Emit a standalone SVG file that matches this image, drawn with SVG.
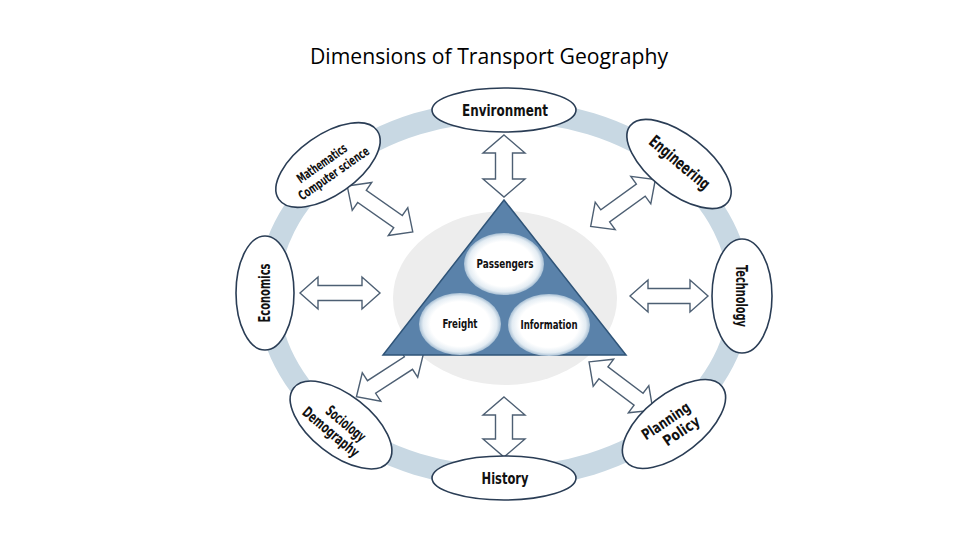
<svg xmlns="http://www.w3.org/2000/svg" width="960" height="540" viewBox="0 0 960 540">
<style>
.title{font-family:"Open Sans","Liberation Sans",sans-serif;font-size:21px;fill:#000}
.lbl{font-family:"DejaVu Sans Condensed","DejaVu Sans",sans-serif;font-stretch:condensed;font-weight:bold;fill:#111;text-anchor:middle}
.node{fill:#fff;stroke:#2a3d55;stroke-width:1.6}
.arr{fill:#fff;stroke:#4d5f73;stroke-width:1.4;stroke-linejoin:miter}
</style>
<defs>
<radialGradient id="glow" cx="0.5" cy="0.5" r="0.5">
<stop offset="0" stop-color="#ffffff"/>
<stop offset="0.72" stop-color="#ffffff"/>
<stop offset="0.9" stop-color="#e3ecf3"/>
<stop offset="1" stop-color="#a7bfd4"/>
</radialGradient>
</defs>
<rect width="960" height="540" fill="#fff"/>
<text class="title" x="489" y="64" text-anchor="middle" textLength="358" lengthAdjust="spacingAndGlyphs">Dimensions of Transport Geography</text>
<g id="ring">
<ellipse cx="504" cy="294" rx="236" ry="183" fill="none" stroke="#c8d8e3" stroke-width="22"/>
<ellipse cx="505" cy="298" rx="112" ry="87" fill="#ededed"/>
</g>
<g id="connectors">
<path class="arr" transform="translate(504,166) rotate(90)" d="M-31,0 L-13,-21 L-13,-8.5 L13,-8.5 L13,-21 L31,0 L13,21 L13,8.5 L-13,8.5 L-13,21 Z"/>
<path class="arr" transform="translate(504,427) rotate(90)" d="M-30,0 L-12,-21 L-12,-8.5 L12,-8.5 L12,-21 L30,0 L12,21 L12,8.5 L-12,8.5 L-12,21 Z"/>
<path class="arr" transform="translate(340,293)" d="M-40,0 L-22,-16 L-22,-7.5 L22,-7.5 L22,-16 L40,0 L22,16 L22,7.5 L-22,7.5 L-22,16 Z"/>
<path class="arr" transform="translate(669,296)" d="M-39,0 L-21,-16 L-21,-7.5 L21,-7.5 L21,-16 L39,0 L21,16 L21,7.5 L-21,7.5 L-21,16 Z"/>
<path class="arr" transform="translate(380,209) rotate(35)" d="M-40,0 L-22,-17 L-22,-7.5 L22,-7.5 L22,-17 L40,0 L22,17 L22,7.5 L-22,7.5 L-22,17 Z"/>
<path class="arr" transform="translate(623,203) rotate(-36)" d="M-40,0 L-22,-17 L-22,-7.5 L22,-7.5 L22,-17 L40,0 L22,17 L22,7.5 L-22,7.5 L-22,17 Z"/>
<path class="arr" transform="translate(390,375) rotate(-33)" d="M-40,0 L-22,-17 L-22,-7.5 L22,-7.5 L22,-17 L40,0 L22,17 L22,7.5 L-22,7.5 L-22,17 Z"/>
<path class="arr" transform="translate(621,386) rotate(37)" d="M-40,0 L-22,-17 L-22,-7.5 L22,-7.5 L22,-17 L40,0 L22,17 L22,7.5 L-22,7.5 L-22,17 Z"/>
</g>
<g id="transport">
<polygon points="504,200 383,355 626,355" fill="#5a82aa" stroke="#2f5478" stroke-width="1.5"/>
</g>
<g id="passengers">
<ellipse cx="504" cy="264" rx="40" ry="31" fill="url(#glow)"/>
<text class="lbl" x="505" y="268" font-size="12" textLength="57" lengthAdjust="spacingAndGlyphs">Passengers</text>
</g>
<g id="freight">
<ellipse cx="460" cy="324" rx="41" ry="31" fill="url(#glow)"/>
<text class="lbl" x="460" y="328" font-size="12" textLength="35" lengthAdjust="spacingAndGlyphs">Freight</text>
</g>
<g id="information">
<ellipse cx="549" cy="325" rx="41" ry="31" fill="url(#glow)"/>
<text class="lbl" x="549" y="329" font-size="12" textLength="57" lengthAdjust="spacingAndGlyphs">Information</text>
</g>
<g id="environment">
<ellipse class="node" cx="504" cy="110" rx="72" ry="22"/>
<text class="lbl" x="505" y="116" font-size="16" textLength="86" lengthAdjust="spacingAndGlyphs">Environment</text>
</g>
<g id="history">
<ellipse class="node" cx="504" cy="478" rx="72" ry="22"/>
<text class="lbl" x="505" y="484" font-size="16" textLength="47" lengthAdjust="spacingAndGlyphs">History</text>
</g>
<g id="economics">
<ellipse class="node" cx="265" cy="293" rx="29" ry="57"/>
<text class="lbl" transform="translate(270,293) rotate(-90)" font-size="16" textLength="59" lengthAdjust="spacingAndGlyphs">Economics</text>
</g>
<g id="technology">
<ellipse class="node" cx="742" cy="296" rx="30" ry="57"/>
<text class="lbl" transform="translate(736,296) rotate(90)" font-size="16" textLength="62" lengthAdjust="spacingAndGlyphs">Technology</text>
</g>
<g id="mathematics">
<ellipse class="node" cx="328" cy="165" rx="60" ry="30" transform="rotate(-35 328 165)"/>
<g transform="translate(330,168) rotate(-35)">
<text class="lbl" x="-4" y="-4" font-size="13" textLength="58" lengthAdjust="spacingAndGlyphs">Mathematics</text>
<text class="lbl" x="0" y="11" font-size="13" textLength="83" lengthAdjust="spacingAndGlyphs">Computer  science</text>
</g>
</g>
<g id="engineering">
<ellipse class="node" cx="679" cy="164" rx="62" ry="29" transform="rotate(38 679 164)"/>
<text class="lbl" transform="translate(676,167) rotate(40)" font-size="17" textLength="74" lengthAdjust="spacingAndGlyphs">Engineering</text>
</g>
<g id="sociology">
<ellipse class="node" cx="341" cy="425" rx="60" ry="30" transform="rotate(38 341 425)"/>
<g transform="translate(336,426) rotate(40)">
<text class="lbl" x="6" y="-3" font-size="15" textLength="47" lengthAdjust="spacingAndGlyphs">Sociology</text>
<text class="lbl" x="0" y="13" font-size="15" textLength="69" lengthAdjust="spacingAndGlyphs">Demography</text>
</g>
</g>
<g id="planning">
<ellipse class="node" cx="674" cy="424" rx="61" ry="30" transform="rotate(-38 674 424)"/>
<g transform="translate(673,426) rotate(-34)">
<text class="lbl" x="-3" y="-3" font-size="15" textLength="55" lengthAdjust="spacingAndGlyphs">Planning</text>
<text class="lbl" x="4" y="14" font-size="15" textLength="41" lengthAdjust="spacingAndGlyphs">Policy</text>
</g>
</g>
</svg>
